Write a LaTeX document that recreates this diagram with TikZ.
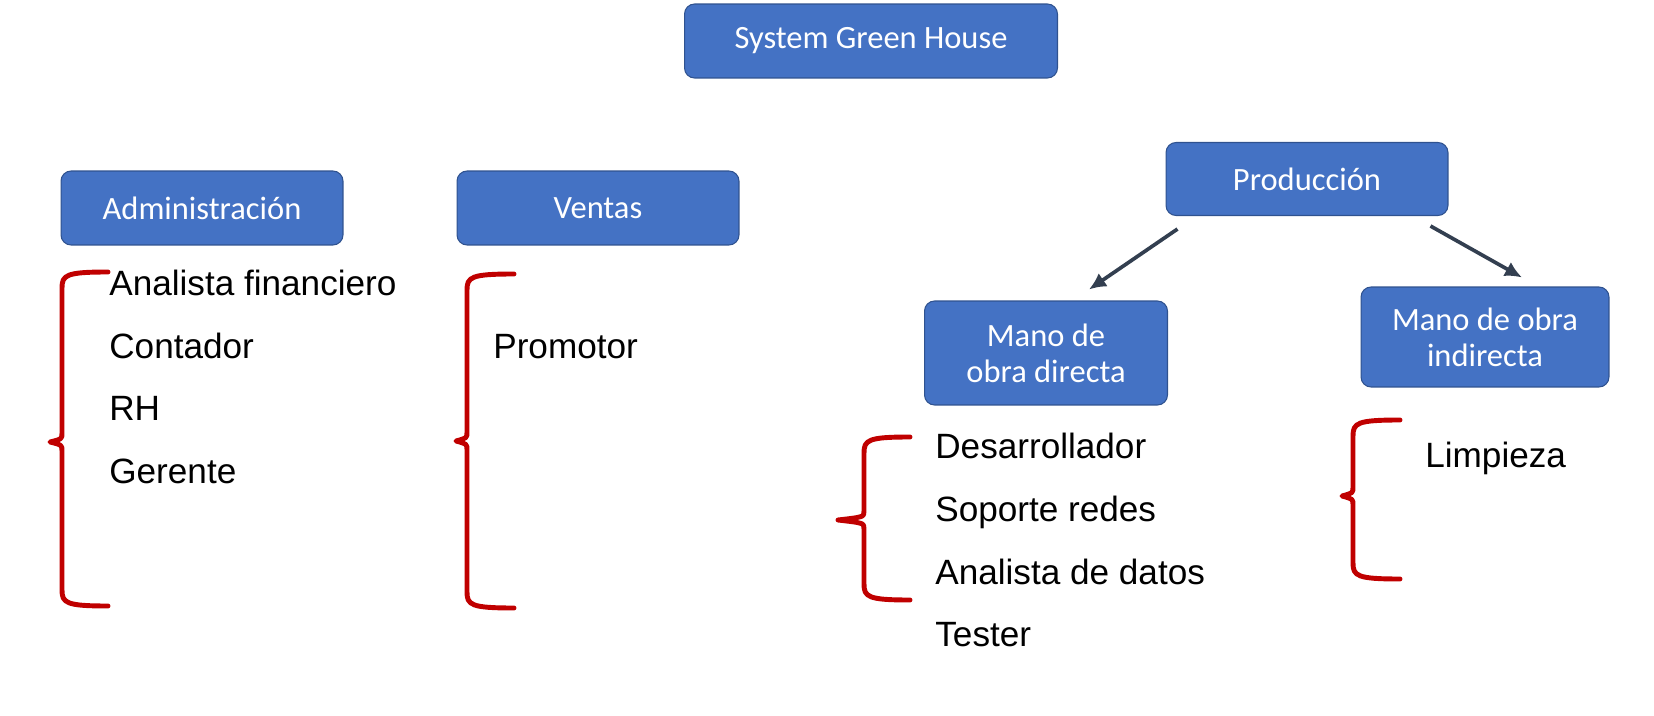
\documentclass[tikz,border=0pt]{standalone}
\usepackage{fontspec}
\setmainfont{Liberation Sans}
\newfontfamily\cajafont{Carlito}
\usetikzlibrary{arrows.meta}
\definecolor{azulcaja}{HTML}{4472C4}
\definecolor{bordecaja}{HTML}{2F528F}
\definecolor{rojollave}{HTML}{C00000}
\definecolor{flecha}{HTML}{333F50}
\tikzset{
	caja/.style={draw=bordecaja, line width=0.6pt, fill=azulcaja, rounded corners=0.2cm,
		text=white, align=center, inner sep=0pt,
		font=\cajafont\fontsize{18.5}{20.5}\selectfont},
	puesto/.style={anchor=base west, inner sep=0pt, font=\fontsize{20}{24}\selectfont},
	llave/.style={draw=rojollave, line width=2.8pt, line cap=round, line join=round},
	flechita/.style={draw=flecha, line width=2.1pt, -{Latex[length=0.34cm,width=0.32cm]}},
}
% llave roja: #1 x del extremo, #2 x del trazo, #3 x de la punta, #4 y arriba, #5 y punta, #6 y abajo
\newcommand{\llave}[6]{%
	\draw[llave] (#1,#4) .. controls ({#2+4},#4) and (#2,{#4+3}) .. (#2,{#4+16})
		-- (#2,{#5-9}) .. controls (#2,{#5-3}) .. (#3,#5)
		.. controls (#2,{#5+3}) .. (#2,{#5+9})
		-- (#2,{#6-16}) .. controls (#2,{#6-3}) and ({#2+4},#6) .. (#1,#6);}
\begin{document}
\begin{tikzpicture}[x=0.02cm,y=-0.02cm]
		\useasboundingbox (0,0) rectangle (1654,716);
		% cajas
		\node[caja, minimum width=7.46cm, minimum height=1.48cm] (sgh) at (871,41) {System Green House};
		\node[caja, minimum width=5.64cm, minimum height=1.48cm] (admin) at (202,208) {Administración};
		\node[caja, minimum width=5.64cm, minimum height=1.48cm] (ventas) at (598,208) {Ventas};
		\node[caja, minimum width=5.64cm, minimum height=1.46cm] (prod) at (1307,179) {Producción};
		\node[caja, minimum width=4.86cm, minimum height=2.08cm] (mdir) at (1046,353) {Mano de\\obra directa};
		\node[caja, minimum width=4.96cm, minimum height=2.00cm] (mind) at (1485,337) {Mano de obra\\indirecta};
		% flechas
		\draw[flechita] ([shift={(12,13)}]prod.south west) -- ([shift={(43,-11)}]mdir.north);
		\draw[flechita] ([shift={(-18,10)}]prod.south east) -- ([shift={(37,-9)}]mind.north);
		% puestos
		\node[puesto] (analista) at (109,296) {Analista financiero};
		\node[puesto] (contador) at (109,358) {Contador};
		\node[puesto] (rh) at (109,420) {RH};
		\node[puesto] (gerente) at (109,483) {Gerente};
		\node[puesto] (promotor) at (493,358) {Promotor};
		\node[puesto] (desarrollador) at (935,458) {Desarrollador};
		\node[puesto] (soporte) at (935,521) {Soporte redes};
		\node[puesto] (datos) at (935,584) {Analista de datos};
		\node[puesto] (tester) at (935,646) {Tester};
		\node[puesto] (limpieza) at (1425,467) {Limpieza};
		% llaves
		\llave{108}{62}{50}{272}{442}{606}
		\llave{514}{467}{456}{274}{441}{608}
		\llave{910}{864}{838}{437}{520}{600}
		\llave{1400}{1353}{1342}{420}{496}{579}
\end{tikzpicture}
\end{document}
